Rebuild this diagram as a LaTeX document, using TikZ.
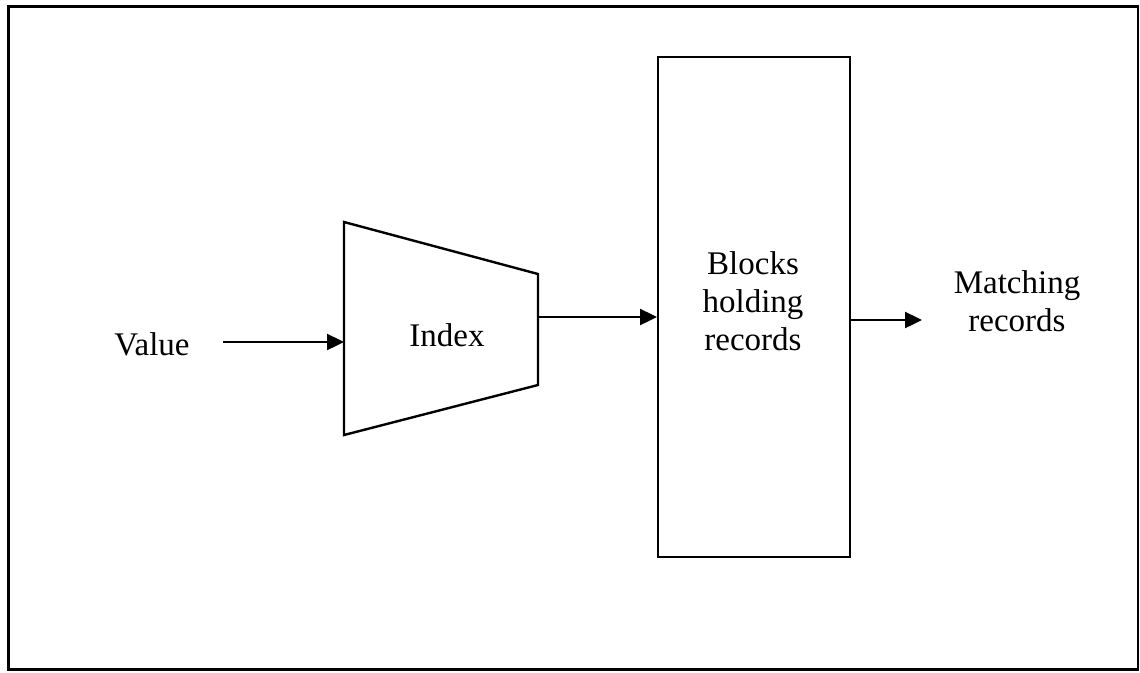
\documentclass[tikz,border=0pt]{standalone}
\usepackage{fontspec}
\setmainfont{Liberation Serif}
\usetikzlibrary{arrows.meta}
\begin{document}
\begin{tikzpicture}[x=1pt,y=-1pt,
  line/.style={line width=2.4pt},
  flow/.style={line, -{Triangle[length=17pt,width=16pt]}},
  lbl/.style={font=\fontsize{33}{38}\selectfont, inner sep=0pt, align=center}]
  \useasboundingbox (0,0) rectangle (1140,672);
  % outer frame
  \draw[line] (8.5,6.5) rectangle (1138,669.5);

  % index trapezium
  \coordinate (tl) at (344,222);
  \coordinate (bl) at (344,435);
  \coordinate (tr) at (538,274);
  \coordinate (br) at (538,385);
  \draw[line, line join=miter] (tl) -- (tr) -- (br) -- (bl) -- cycle;
  \node[lbl, anchor=base] (index) at (447,346) {Index};
  \coordinate (idxin) at (344,342);
  \coordinate (idxout) at (538,317);

  % block store
  \node[line, draw, minimum width=192pt, minimum height=500pt, inner sep=0pt,
        anchor=north west] (blocks) at (657,56) {};
  % multi-line labels sit on the baseline of their last line
  \node[lbl, anchor=base] (blocktext) at (753,350) {Blocks\\holding\\records};

  % labels
  \node[lbl, anchor=base] (value) at (152,355) {Value};
  \node[lbl, anchor=base] (match) at (1017,331) {Matching\\records};
  \coordinate (valueend) at (223,342);
  \coordinate (resultend) at (922,320);

  % connectors
  \draw[flow] (valueend) -- (idxin);
  \draw[flow] (idxout) -- (idxout -| blocks.west);
  \draw[flow] (resultend -| blocks.east) -- (resultend);
\end{tikzpicture}
\end{document}
